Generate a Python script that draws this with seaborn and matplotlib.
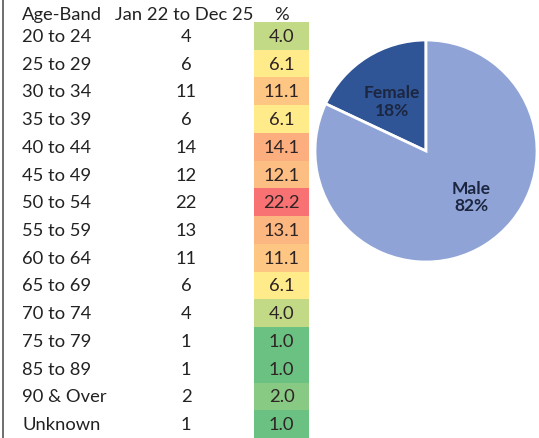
import numpy as np
import pandas as pd
import matplotlib
matplotlib.use('Agg')
import matplotlib.pyplot as plt
import matplotlib.colors as mcolors
import matplotlib.transforms as mtrans
import seaborn as sns

# dados
faixas = ['20 to 24', '25 to 29', '30 to 34', '35 to 39', '40 to 44', '45 to 49', '50 to 54',
          '55 to 59', '60 to 64', '65 to 69', '70 to 74', '75 to 79', '85 to 89', '90 & Over', 'Unknown']
casos = [4, 6, 11, 6, 14, 12, 22, 13, 11, 6, 4, 1, 1, 2, 1]
percentual = [4.0, 6.1, 11.1, 6.1, 14.1, 12.1, 22.2, 13.1, 11.1, 6.1, 4.0, 1.0, 1.0, 2.0, 1.0]
sexo = ['Female', 'Male']
sexo_pct = [18, 82]
cores_sexo = ['#2F5597', '#8FA3D6']

sns.set_style('white')
plt.rcParams['font.family'] = ['Lato', 'DejaVu Sans']
fs = 13.2

W, H = 539, 439
fig = plt.figure(figsize=(W / 100, H / 100), dpi=100)
fig.patch.set_facecolor('white')

# coluna de % como heatmap (escala verde-amarelo-vermelho)
topo = 23
ax = fig.add_axes([254 / W, 0, 55 / W, (H - topo) / H])
cmap = mcolors.LinearSegmentedColormap.from_list('gyr', ['#63BE7B', '#FFEB84', '#F8696B'])
norm = mcolors.TwoSlopeNorm(vmin=min(percentual), vcenter=float(np.median(percentual)), vmax=max(percentual))
df = pd.DataFrame({'%': percentual}, index=faixas)
sns.heatmap(df, ax=ax, cmap=cmap, norm=norm, annot=True, fmt='.1f', cbar=False,
            annot_kws={'color': '#2E2424', 'fontsize': fs}, alpha=0.95)
ax.set_xticks([])
ax.set_yticks([])
ax.set_xlabel('')
ax.set_ylabel('')

# textos da tabela alinhados com as linhas do heatmap
tr = mtrans.blended_transform_factory(fig.transFigure, ax.transData)
for i, (f, c) in enumerate(zip(faixas, casos)):
    fig.text(22 / W, i + 0.5, f, transform=tr, ha='left', va='center', fontsize=fs, color='#222222')
    fig.text(186 / W, i + 0.5, str(c), transform=tr, ha='center', va='center', fontsize=fs, color='#222222')

y_cab = 1 - 15 / H
fig.text(22 / W, y_cab, 'Age-Band', ha='left', va='center', fontsize=fs, color='#222222')
fig.text(184 / W, y_cab, 'Jan 22 to Dec 25', ha='center', va='center', fontsize=fs, color='#222222')
fig.text(282 / W, y_cab, '%', ha='center', va='center', fontsize=fs, color='#222222')

# linha vertical à esquerda
fig.add_artist(plt.Line2D([3 / W, 3 / W], [0, 1], transform=fig.transFigure, color='#555555', lw=1.2))

# gráfico de pizza
r = 111
ax2 = fig.add_axes([(426 - r) / W, (H - 152 - r) / H, 2 * r / W, 2 * r / H])
ax2.pie(sexo_pct, colors=cores_sexo, startangle=90, counterclock=True,
        wedgeprops={'edgecolor': 'white', 'linewidth': 2})
ax2.set_xlim(-1, 1)
ax2.set_ylim(-1, 1)
ax2.set_aspect('equal')
ax2.axis('off')
pos = [(-0.31, 0.45), (0.41, -0.41)]
for (x, y), s, p in zip(pos, sexo, sexo_pct):
    ax2.text(x, y, f'{s}\n{p}%', ha='center', va='center', fontsize=12.5,
             fontweight='bold', color='#1C2640', linespacing=1.15)

plt.savefig('out.png', dpi=100)
